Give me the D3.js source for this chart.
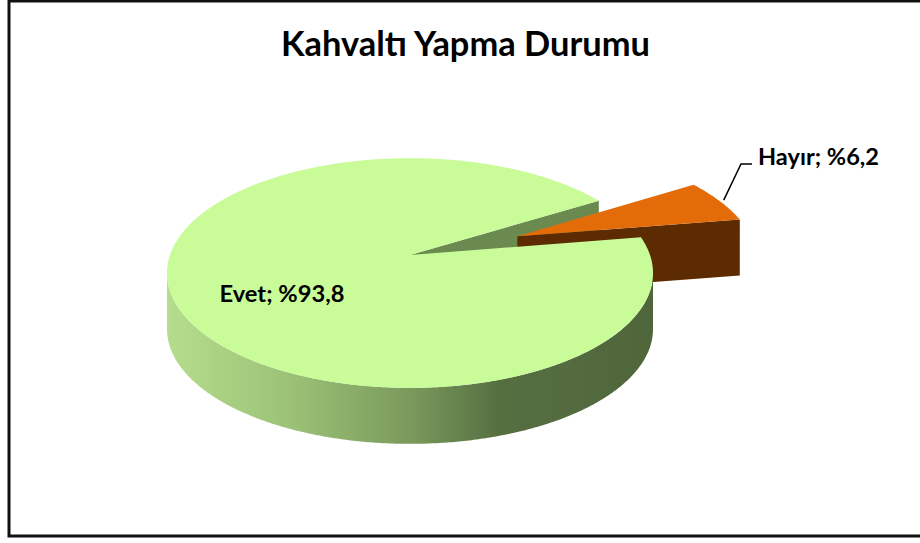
<!DOCTYPE html>
<html>
<head>
<meta charset="utf-8">
<script src="https://cdn.jsdelivr.net/npm/d3@7"></script>
<style>
  body { margin: 0; background: #fff; }
  text { font-family: Lato, "Open Sans", sans-serif; font-weight: bold; fill: #000; }
</style>
</head>
<body>
<svg width="920" height="543"></svg>
<script>
// data
var categories = ["Evet", "Hayır"];
var values = [93.8, 6.2];
var labels = ["Evet; %93,8", "Hayır; %6,2"];
var title = "Kahvaltı Yapma Durumu";

var svg = d3.select("svg");

// frame (right edge runs off the picture)
svg.append("rect")
  .attr("x", 9).attr("y", 1)
  .attr("width", 940).attr("height", 535)
  .attr("fill", "#fff")
  .attr("stroke", "#111")
  .attr("stroke-width", 3);

svg.append("text")
  .attr("x", 281).attr("y", 56)
  .attr("font-size", 35)
  .attr("textLength", 369)
  .attr("lengthAdjust", "spacingAndGlyphs")
  .text(title);

// 3d disc, simple perspective
var cx = 410, cy = 255, A = 240, B = 112, k = 0.157, H = 56;
var explode = [0, 0.49];
var topCol = ["#c9fb99", "#e36c09"],
    cutCol = ["#6b8a50", "#5c2b02"];

var defs = svg.append("defs");
var grad = defs.append("linearGradient").attr("id", "wallGreen")
  .attr("gradientUnits", "userSpaceOnUse")
  .attr("x1", 166).attr("x2", 655).attr("y1", 0).attr("y2", 0);
[[0, "#b6dd8d"], [0.25, "#9cc276"], [0.5, "#7a9a5c"], [0.68, "#566f41"], [1, "#4f663b"]]
  .forEach(function(s) { grad.append("stop").attr("offset", s[0]).attr("stop-color", s[1]); });

function proj(u, v, z) {
  var w = 1 + k * v;
  return [cx + A * u / w, cy - B * v / w + (z || 0)];
}

var rad = Math.PI / 180;
var start = 80.7 * rad;
var pie = d3.pie().sort(null).startAngle(start).endAngle(start + 2 * Math.PI);
var arcs = pie(values);

// d3 angle (clockwise from top) -> plane angle (ccw from right)
arcs.forEach(function(d, i) {
  d.t0 = Math.PI / 2 - d.endAngle;
  d.t1 = Math.PI / 2 - d.startAngle;
  var m = (d.t0 + d.t1) / 2;
  d.ou = explode[i] * Math.cos(m);
  d.ov = explode[i] * Math.sin(m);
  d.mid = m;
});

function rim(d, t, r) {
  r = r == null ? 1 : r;
  return [d.ou + r * Math.cos(t), d.ov + r * Math.sin(t)];
}

function arcPts(d, a0, a1, z) {
  var n = Math.max(2, Math.ceil(Math.abs(a1 - a0) / (0.5 * rad)));
  var pts = [];
  for (var j = 0; j <= n; j++) {
    var t = a0 + (a1 - a0) * j / n;
    var p = rim(d, t);
    pts.push(proj(p[0], p[1], z));
  }
  return pts;
}

var line = d3.line();

function topFace(d) {
  var pts = [proj(d.ou, d.ov)].concat(arcPts(d, d.t0, d.t1, 0));
  return line(pts) + "Z";
}

function cutFace(d, t) {
  var p = rim(d, t);
  return line([proj(d.ou, d.ov), proj(p[0], p[1]), proj(p[0], p[1], H), proj(d.ou, d.ov, H)]) + "Z";
}

// visible part of the outer wall: between left and right silhouette
var tL = Math.PI, tR = 2 * Math.PI, xmin = 1e9, xmax = -1e9;
for (var t = 90 * rad; t <= 450 * rad; t += 0.25 * rad) {
  var x = proj(Math.cos(t), Math.sin(t))[0];
  if (t < 270 * rad && x < xmin) { xmin = x; tL = t; }
  if (t >= 270 * rad && x > xmax) { xmax = x; tR = t; }
}

function wallFace(d) {
  var a0 = d.t0, a1 = d.t1;
  // shift slice range so it overlaps [tL, tR]
  while (a1 < tL) { a0 += 2 * Math.PI; a1 += 2 * Math.PI; }
  while (a0 > tR) { a0 -= 2 * Math.PI; a1 -= 2 * Math.PI; }
  var s = Math.max(a0, tL), e = Math.min(a1, tR);
  if (e <= s) return null;
  var up = arcPts(d, s, e, 0), dn = arcPts(d, s, e, H).reverse();
  return line(up.concat(dn)) + "Z";
}

function cutVisible(t, isStart) {
  return isStart ? Math.cos(t) > 0 : Math.cos(t) < 0;
}

var g = svg.append("g");
var still = arcs.filter(function(d, i) { return explode[i] === 0; }),
    moved = arcs.filter(function(d, i) { return explode[i] !== 0; });

// cut faces of the slices that stay in place
still.forEach(function(d) {
  if (cutVisible(d.t0, true)) g.append("path").attr("d", cutFace(d, d.t0)).attr("fill", cutCol[d.index]);
  if (cutVisible(d.t1, false)) g.append("path").attr("d", cutFace(d, d.t1)).attr("fill", cutCol[d.index]);
});

// exploded slices
moved.forEach(function(d) {
  if (cutVisible(d.t0, true)) g.append("path").attr("d", cutFace(d, d.t0)).attr("fill", cutCol[d.index]);
  if (cutVisible(d.t1, false)) g.append("path").attr("d", cutFace(d, d.t1)).attr("fill", cutCol[d.index]);
  var w = wallFace(d);
  if (w) g.append("path").attr("d", w).attr("fill", cutCol[d.index]);
  g.append("path").attr("d", topFace(d)).attr("fill", topCol[d.index]);
});

// walls and tops of the rest
still.forEach(function(d) {
  var w = wallFace(d);
  if (w) g.append("path").attr("d", w).attr("fill", "url(#wallGreen)");
  g.append("path").attr("d", topFace(d)).attr("fill", topCol[d.index]);
});

// labels
var ev = arcs[0], ep = rim(ev, ev.mid, 0.55), evp = proj(ep[0], ep[1]);
svg.append("text")
  .attr("x", evp[0] - 63).attr("y", evp[1] + 25)
  .attr("font-size", 22)
  .attr("textLength", 125)
  .attr("lengthAdjust", "spacingAndGlyphs")
  .text(labels[0]);

var hy = arcs[1], hp = rim(hy, hy.mid, 1), hpp = proj(hp[0], hp[1]);
svg.append("path")
  .attr("d", line([[hpp[0] + 4, hpp[1] - 1], [741, 164], [752, 164]]))
  .attr("fill", "none")
  .attr("stroke", "#000")
  .attr("stroke-width", 1.5);
svg.append("text")
  .attr("x", 758).attr("y", 165)
  .attr("font-size", 22)
  .attr("textLength", 121)
  .attr("lengthAdjust", "spacingAndGlyphs")
  .text(labels[1]);
</script>
</body>
</html>
